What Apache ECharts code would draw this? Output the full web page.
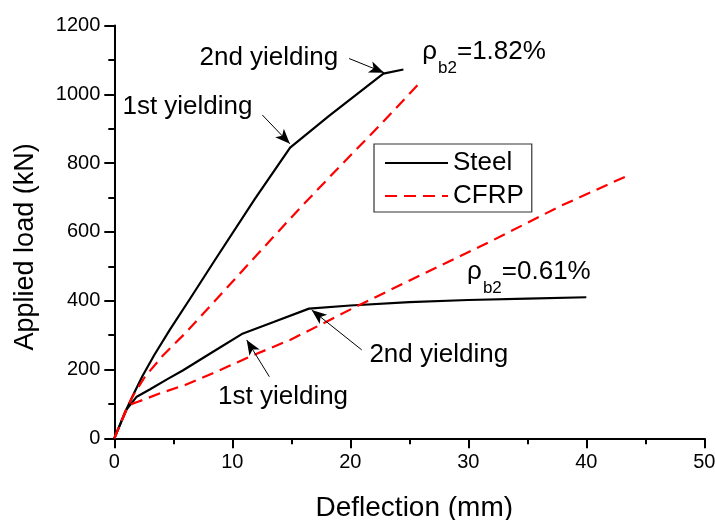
<!DOCTYPE html>
<html>
<head>
<meta charset="utf-8">
<script src="https://cdn.jsdelivr.net/npm/echarts@6/dist/echarts.min.js"></script>
<style>html,body{margin:0;padding:0;background:#fff;}#c{width:715px;height:520px;}</style>
</head>
<body>
<div id="c"></div>
<script>
// ---- data (deflection mm, load kN) ----
const steelHigh_x = [0, 1.0, 1.7, 2.4, 3.4, 4.7, 6.5, 8.6, 11.9, 14.9, 18.2, 22.8, 24.5];
const steelHigh_y = [0, 82, 133, 182, 243, 315, 410, 522, 695, 845, 937, 1060, 1072];
const steelLow_x = [0, 1.0, 1.9, 3.0, 4.5, 5.8, 8.3, 10.8, 13.5, 16.5, 20, 25, 30, 35, 40];
const steelLow_y = [0, 82, 121, 142, 172, 197, 250, 303, 338, 377, 386, 396, 402, 406, 410];
const cfrpHigh_x = [0, 0.9, 1.6, 2.6, 4.1, 6.0, 9.1, 12.0, 15.7, 19.1, 22.5, 25.8];
const cfrpHigh_y = [0, 76, 125, 179, 240, 305, 421, 530, 668, 790, 910, 1030];
const cfrpLow_x = [0, 1.0, 1.5, 2.0, 3.9, 6.0, 8.35, 11.8, 14.9, 17.7, 20.5, 26.0, 32.1, 37.8, 43.4];
const cfrpLow_y = [0, 80, 100, 106, 131, 155, 189, 242, 286, 334, 383, 475, 576, 675, 762];

const legendNames = ['Steel', 'CFRP'];
const xTitle = 'Deflection (mm)';
const yTitle = 'Applied load (kN)';

// annotation texts and anchors (data units)
const annoText = ['2nd yielding', '1st yielding', '2nd yielding', '1st yielding'];
const annoAt = [[13.1, 1105], [6.2, 964], [27.5, 243], [14.3, 121]];
const ratioText = ['1.82%', '0.61%'];
const ratioAt = [[26.1, 1118], [29.9, 478]];
// arrows: [tail, head]
const arrows = [
  [[12.54, 940], [14.88, 856]],
  [[19.9, 1104], [22.86, 1063]],
  [[13.14, 179], [11.22, 286]],
  [[20.97, 257], [16.73, 373]]
];

const zip = (xs, ys) => xs.map((x, i) => [x, ys[i]]);
const FONT = 'Liberation Sans';

const chart = echarts.init(document.getElementById('c'), null, {renderer: 'canvas'});

const lineSeries = (name, xs, ys, color, type) => ({
  type: 'line', name: name, data: zip(xs, ys), symbol: 'none', showSymbol: false,
  smooth: false, silent: true, animation: false,
  lineStyle: {color: color, width: 2.2, type: type},
  itemStyle: {color: color},
  z: 3
});

const annoData = annoText.map((t, i) => ({
  value: annoAt[i],
  label: {formatter: t}
})).concat(ratioText.map((t, i) => ({
  value: ratioAt[i],
  label: {
    align: 'left',
    formatter: '{m|ρ}{s|b2}{m|=' + t + '}',
    rich: {
      m: {fontSize: 26, fontFamily: FONT, color: '#000', lineHeight: 30, verticalAlign: 'top'},
      s: {fontSize: 17, fontFamily: FONT, color: '#000', lineHeight: 17, verticalAlign: 'top', padding: [21, 0, 0, 1]}
    }
  }
})));

chart.setOption({
  animation: false,
  backgroundColor: '#fff',
  textStyle: {fontFamily: FONT},
  grid: {left: 114.3, right: 10.7, top: 25.5, bottom: 81.7, containLabel: false, outerBoundsMode: 'none'},
  legend: {
    data: legendNames,
    orient: 'vertical',
    left: 374, top: 144,
    itemWidth: 63, itemHeight: 14, itemGap: 7,
    padding: [6, 8, 3, 10],
    borderColor: '#333', borderWidth: 1.2,
    itemStyle: {opacity: 0},
    textStyle: {fontSize: 26, fontFamily: FONT, color: '#000'},
    selectedMode: false
  },
  xAxis: {
    type: 'value', min: 0, max: 50, interval: 10,
    name: xTitle, nameLocation: 'middle', nameGap: 56,
    nameTextStyle: {fontSize: 28, fontFamily: FONT, color: '#000', padding: [0, 0, 0, 10]},
    axisLine: {show: true, onZero: false, lineStyle: {color: '#000', width: 2}},
    axisTick: {show: true, inside: false, length: 10, lineStyle: {color: '#000', width: 2}},
    minorTick: {show: true, splitNumber: 2, length: 6, lineStyle: {color: '#000', width: 2}},
    axisLabel: {fontSize: 20, fontFamily: FONT, color: '#000', margin: 14},
    splitLine: {show: false}, minorSplitLine: {show: false}
  },
  yAxis: {
    type: 'value', min: 0, max: 1200, interval: 200,
    name: yTitle, nameLocation: 'middle', nameGap: 75, nameRotate: 90,
    nameTextStyle: {fontSize: 27, fontFamily: FONT, color: '#000', padding: [0, 30, 0, 0]},
    axisLine: {show: true, onZero: false, lineStyle: {color: '#000', width: 2}},
    axisTick: {show: true, inside: false, length: 10, lineStyle: {color: '#000', width: 2}},
    minorTick: {show: true, splitNumber: 2, length: 6, lineStyle: {color: '#000', width: 2}},
    axisLabel: {fontSize: 20, fontFamily: FONT, color: '#000', margin: 14, formatter: v => String(v)},
    splitLine: {show: false}, minorSplitLine: {show: false}
  },
  series: [
    lineSeries('Steel', steelHigh_x, steelHigh_y, '#000000', 'solid'),
    lineSeries('Steel', steelLow_x, steelLow_y, '#000000', 'solid'),
    lineSeries('CFRP', cfrpHigh_x, cfrpHigh_y, '#ff0000', [12, 7]),
    lineSeries('CFRP', cfrpLow_x, cfrpLow_y, '#ff0000', [12, 7]),
    {
      type: 'scatter', name: 'annotations', silent: true, animation: false,
      symbolSize: 0, symbol: 'circle', itemStyle: {color: 'rgba(0,0,0,0)', opacity: 1},
      label: {show: true, position: 'inside', fontSize: 26, fontFamily: FONT, color: '#000', opacity: 1, align: 'center', verticalAlign: 'middle'},
      data: annoData,
      markLine: {
        silent: true, animation: false,
        symbol: ['none', 'arrow'], symbolSize: [9, 15],
        label: {show: false},
        lineStyle: {color: '#000', width: 1, type: 'solid', opacity: 1},
        emphasis: {disabled: true},
        data: arrows.map(a => [{coord: a[0]}, {coord: a[1]}])
      },
      z: 5
    }
  ]
});
</script>
</body>
</html>
